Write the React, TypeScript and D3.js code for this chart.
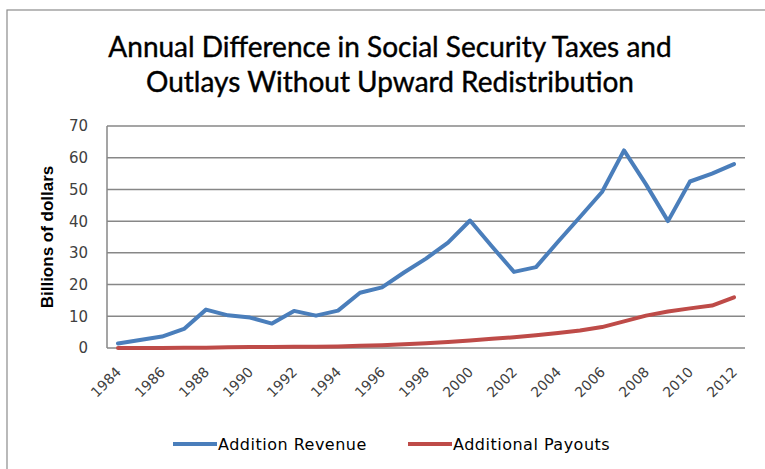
import React from "react";
import * as d3 from "d3";

const years: number[] = d3.range(1984, 2013);
const revenue: number[] = [1.4, 2.5, 3.6, 6.0, 12.1, 10.3, 9.6, 7.7, 11.7, 10.2, 11.8, 17.4, 19.1, 23.8, 28.2, 33.2, 40.2, 32.0, 24.0, 25.5, 33.5, 41.3, 49.2, 62.3, 51.6, 40.0, 52.5, 55.0, 58.0];
const payouts: number[] = [0, 0, 0, 0.1, 0.1, 0.2, 0.3, 0.3, 0.4, 0.4, 0.5, 0.7, 0.9, 1.2, 1.5, 1.9, 2.4, 2.9, 3.4, 4.0, 4.7, 5.5, 6.6, 8.4, 10.2, 11.5, 12.5, 13.4, 16.0];
const yTicks: number[] = [0, 10, 20, 30, 40, 50, 60, 70];
const xLabels: number[] = d3.range(1984, 2013, 2);
const titleLines: string[] = ["Annual Difference in Social Security Taxes and", "Outlays Without Upward Redistribution"];
const seriesNames: string[] = ["Addition Revenue", "Additional Payouts"];
const seriesColors: string[] = ["#4A7EBB", "#BE4B48"];

export default function App() {
  const W = 765, H = 469;
  const left = 107, right = 745, top = 126, bottom = 348;
  const x = d3.scaleBand<number>().domain(years).range([left, right]).padding(0);
  const cx = (yr: number) => (x(yr) as number) + x.bandwidth() / 2;
  const y = d3.scaleLinear().domain([0, 70]).range([bottom, top]);
  const line = d3.line<number>().x((_, i) => cx(years[i])).y((d) => y(d));
  const series = [revenue, payouts];
  const font = "'DejaVu Sans', sans-serif";

  return (
    <svg width={W} height={H} style={{ position: "absolute", left: 0, top: 0, background: "#fff" }}>
      <rect x={7} y={10} width={W} height={H} fill="#fff" stroke="#8c8c8c" strokeWidth={1.2} />
      {titleLines.map((t, i) => (
        <text key={t} x={390} y={57 + i * 35} textAnchor="middle" fontFamily="Lato, sans-serif" fontSize={28} fill="#000" stroke="#000" strokeWidth={0.4}>
          {t}
        </text>
      ))}
      {yTicks.map((t) => (
        <g key={t}>
          <line x1={left} x2={right} y1={y(t)} y2={y(t)} stroke="#878787" strokeWidth={1.5} />
          <text x={88} y={y(t)} dy="0.36em" textAnchor="end" fontFamily={font} fontSize={15} fill="#404040">
            {t}
          </text>
        </g>
      ))}
      <line x1={left} x2={left} y1={top} y2={bottom} stroke="#878787" strokeWidth={1.5} />
      <text transform={`translate(53,${(top + bottom) / 2}) rotate(-90)`} textAnchor="middle" fontFamily="'Liberation Sans', sans-serif" fontWeight="bold" fontSize={17} fill="#000">
        Billions of dollars
      </text>
      {xLabels.map((yr) => (
        <text key={yr} transform={`translate(${cx(yr) + 4},${373}) rotate(-45)`} textAnchor="end" fontFamily={font} fontSize={14} fill="#404040">
          {yr}
        </text>
      ))}
      {series.map((s, i) => (
        <path key={i} d={line(s) || ""} fill="none" stroke={seriesColors[i]} strokeWidth={4} strokeLinejoin="round" strokeLinecap="round" />
      ))}
      {seriesNames.map((n, i) => {
        const lx = i === 0 ? 173 : 408;
        return (
          <g key={n}>
            <line x1={lx} x2={lx + 44} y1={444} y2={444} stroke={seriesColors[i]} strokeWidth={4} />
            <text x={lx + 45} y={444} dy="0.36em" fontFamily={font} fontSize={16} letterSpacing={0.5} fill="#000">
              {n}
            </text>
          </g>
        );
      })}
    </svg>
  );
}
